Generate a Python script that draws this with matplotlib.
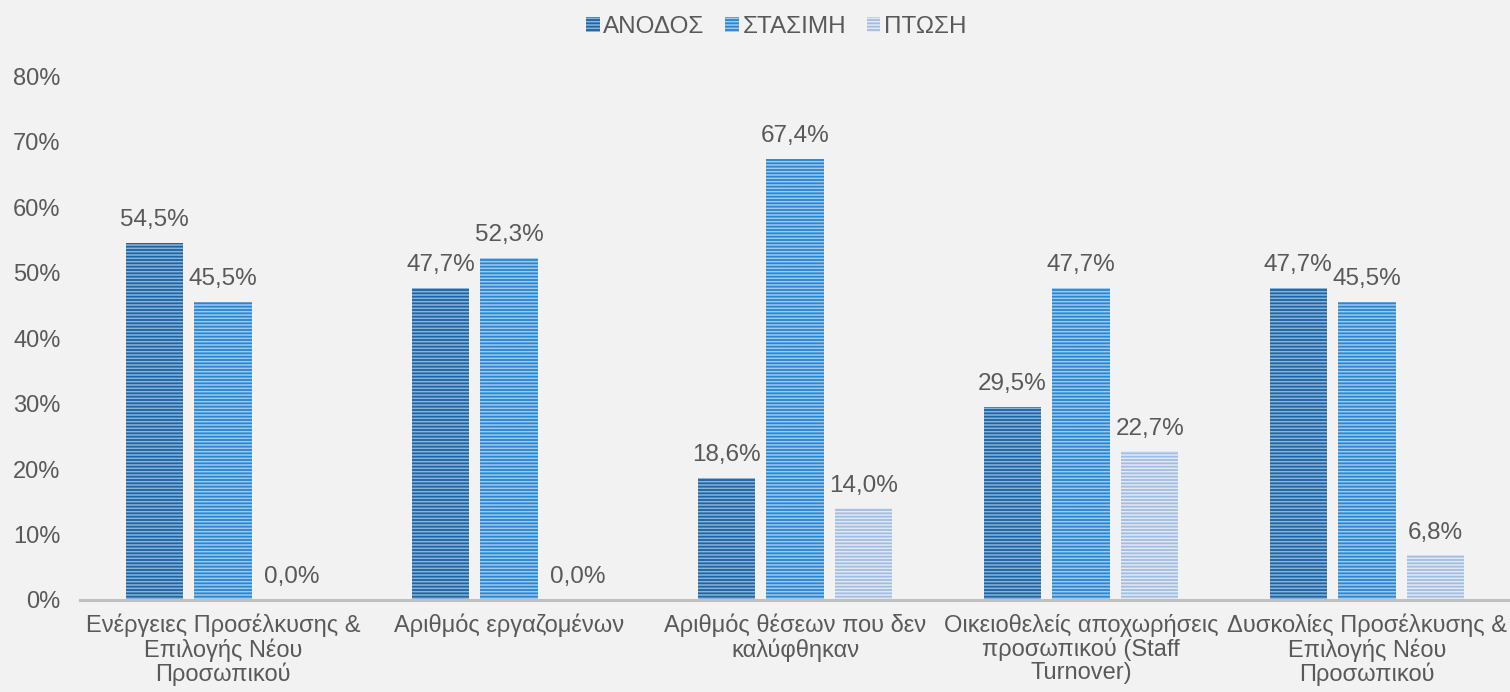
import matplotlib
matplotlib.use('Agg')
import matplotlib.pyplot as plt
import numpy as np
from matplotlib.patches import Patch

plt.rcParams['font.family'] = ['Liberation Sans', 'DejaVu Sans']
plt.rcParams['hatch.linewidth'] = 1.1

categories = ['Ενέργειες Προσέλκυσης &\nΕπιλογής Νέου\nΠροσωπικού',
              'Αριθμός εργαζομένων',
              'Αριθμός θέσεων που δεν\nκαλύφθηκαν',
              'Οικειοθελείς αποχωρήσεις\nπροσωπικού (Staff\nTurnover)',
              'Δυσκολίες Προσέλκυσης &\nΕπιλογής Νέου\nΠροσωπικού']
series = ['ΑΝΟΔΟΣ', 'ΣΤΑΣΙΜΗ', 'ΠΤΩΣΗ']
anodos = [54.5, 47.7, 18.6, 29.5, 47.7]
stasimi = [45.5, 52.3, 67.4, 47.7, 45.5]
ptosi = [0.0, 0.0, 14.0, 22.7, 6.8]
yticks = [0, 10, 20, 30, 40, 50, 60, 70, 80]

face = ['#1f63a0', '#2a86d0', '#a3bde0']
stripe = ['#86b4dd', '#9ccaee', '#e0e9f5']
txt = '#595959'

fig = plt.figure(figsize=(15.1, 6.92), dpi=100, facecolor='#f2f2f2')
ax = fig.add_axes([0.053, 0.133, 0.947, 0.757])
ax.set_facecolor('#f2f2f2')

x = np.arange(len(categories))
w = 0.2
off = 0.24
for i, vals in enumerate([anodos, stasimi, ptosi]):
    pos = x + (i - 1) * off
    ax.bar(pos, vals, w, color=face[i], edgecolor=stripe[i], linewidth=0,
           hatch='-----')
    for p, v in zip(pos, vals):
        ax.text(p, v + 1.8, ('%.1f%%' % v).replace('.', ','), ha='center',
                va='bottom', fontsize=17.5, color=txt)

ax.set_ylim(0, 80)
ax.set_xlim(-0.5, 4.5)
ax.set_yticks(yticks)
ax.set_yticklabels(['%d%%' % t for t in yticks], fontsize=17, color=txt)
ax.set_xticks(x)
ax.set_xticklabels(categories, fontsize=17, color=txt, linespacing=1.05)
ax.tick_params(axis='both', length=0)
ax.tick_params(axis='y', pad=14)
ax.tick_params(axis='x', pad=10)
for s in ['top', 'right', 'left']:
    ax.spines[s].set_visible(False)
ax.spines['bottom'].set_color('#c0c0c0')
ax.spines['bottom'].set_linewidth(2.2)

handles = [Patch(facecolor=face[i], edgecolor=stripe[i], linewidth=0, hatch='-----')
           for i in range(3)]
fig.legend(handles, series, loc='upper center', bbox_to_anchor=(0.514, 1.008), ncol=3,
           frameon=False, fontsize=17.5, labelcolor=txt, handlelength=0.55,
           handleheight=0.55, handletextpad=0.15, columnspacing=0.85)

fig.savefig('out.png', dpi=100, facecolor=fig.get_facecolor())
